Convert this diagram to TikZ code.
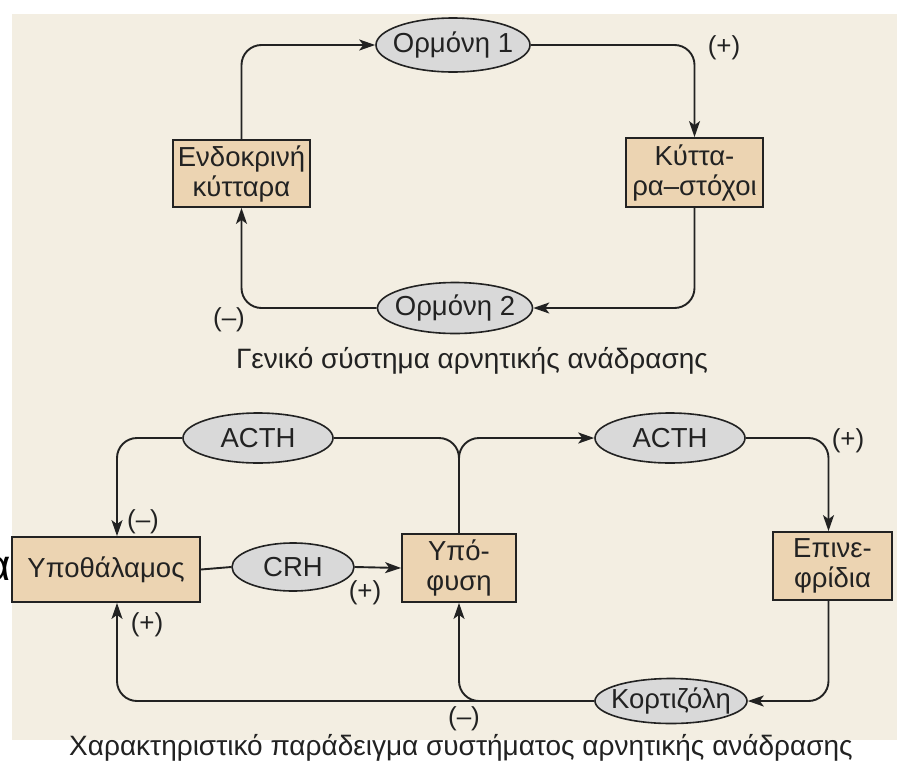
\documentclass[tikz,border=0pt]{standalone}
\usepackage{fontspec}
\setmainfont{Liberation Sans}
\usetikzlibrary{arrows.meta,shapes.geometric}
\definecolor{paper}{HTML}{F3EEE2}
\definecolor{boxfill}{HTML}{ECD4B2}
\definecolor{ellfill}{HTML}{D9D9D9}
\definecolor{ink}{HTML}{222222}
\tikzset{
  box/.style={draw=ink, line width=1.8pt, fill=boxfill, align=center, inner sep=0pt,
    font=\fontsize{27.5}{30}\selectfont, text=ink},
  horm/.style={ellipse, draw=ink, line width=1.6pt, fill=ellfill, inner sep=0pt,
    label={[font=\fontsize{27.5}{30}\selectfont, text=ink, inner sep=0pt]center:#1}},
  conn/.style={draw=ink, line width=1.9pt, rounded corners=20pt},
  arr/.style={-{Stealth[length=16pt,width=11pt,inset=4pt]}},
  sign/.style={font=\fontsize{26}{28}\selectfont, text=ink, inner sep=0pt},
  capt/.style={font=\fontsize{28}{30}\selectfont, text=ink, inner sep=0pt, anchor=base}
}
\begin{document}
\begin{tikzpicture}[x=1pt,y=-1pt]
\useasboundingbox (0,0) rectangle (897,774);
\fill[white] (0,0) rectangle (897,774);
\fill[paper] (12,14) rectangle (897,740);

% ---------- top diagram ----------
\node[box, minimum width=137pt, minimum height=67pt] (endo) at (241.5,173.5) {Ενδοκρινή\\κύτταρα};
\node[box, minimum width=137pt, minimum height=69pt] (target) at (694.5,172.5) {Κύττα-\\ρα–στόχοι};
\node[horm={Ορμόνη 1}, minimum width=154pt, minimum height=54pt] (h1) at (453,45) {};
\node[horm={Ορμόνη 2}, minimum width=155pt, minimum height=51pt] (h2) at (455,308) {};

\draw[conn,arr] (endo.north) |- (h1.west);
\draw[conn,arr] (h1.east) -| (target.north);
\draw[conn,arr] (target.south) |- (h2.east);
\draw[conn,arr] (h2.west) -| (endo.south);

\node[sign] (s1) at (724,48) {(+)};
\node[sign] (s2) at (229,320) {(–)};
\node[capt] (cap1) at (472,368) {Γενικό σύστημα αρνητικής ανάδρασης};

% ---------- bottom diagram ----------
\node[box, minimum width=188pt, minimum height=65pt] (hypo) at (106,569.5) {Υποθάλαμος};
\node[box, minimum width=114pt, minimum height=68pt] (pit) at (459,568) {Υπό-\\φυση};
\node[box, minimum width=119pt, minimum height=68pt] (adr) at (832.5,566) {Επινε-\\φρίδια};
\node[horm={ACTH}, minimum width=150pt, minimum height=50pt] (acthL) at (258,438) {};
\node[horm={ACTH}, minimum width=150pt, minimum height=50pt] (acthR) at (670,438) {};
\node[horm={CRH}, minimum width=122pt, minimum height=48pt] (crh) at (293,567) {};
\node[horm={Κορτιζόλη}, minimum width=152pt, minimum height=45pt] (cort) at (671,701) {};

\draw[conn,arr] (acthL.west) -| ([xshift=11pt]hypo.north);
\draw[conn] (hypo.east) -- (crh.west);
\draw[conn,arr] (crh.east) -- (pit.west);
\draw[conn] (pit.north) |- (acthL.east);
\draw[conn,arr] (pit.north) |- (acthR.west);
\draw[conn,arr] (acthR.east) -| ([xshift=-4pt]adr.north);
\draw[conn,arr] ([xshift=-4pt]adr.south) |- (cort.east);
\draw[conn,arr] (cort.west) -| ([xshift=11pt]hypo.south);
\draw[conn,arr] (cort.west) -| (pit.south);

\node[sign] (s3) at (143,522) {(–)};
\node[sign] (s4) at (147,625) {(+)};
\node[sign] (s5) at (365,593) {(+)};
\node[sign] (s6) at (464,719) {(–)};
\node[sign] (s7) at (848,441) {(+)};
\node[capt] (cap2) at (461,755) {Χαρακτηριστικό παράδειγμα συστήματος αρνητικής ανάδρασης};

\node[font=\fontsize{44}{44}\selectfont, text=black, inner sep=0pt, anchor=east] (alpha) at (11,569) {α};
\end{tikzpicture}
\end{document}
